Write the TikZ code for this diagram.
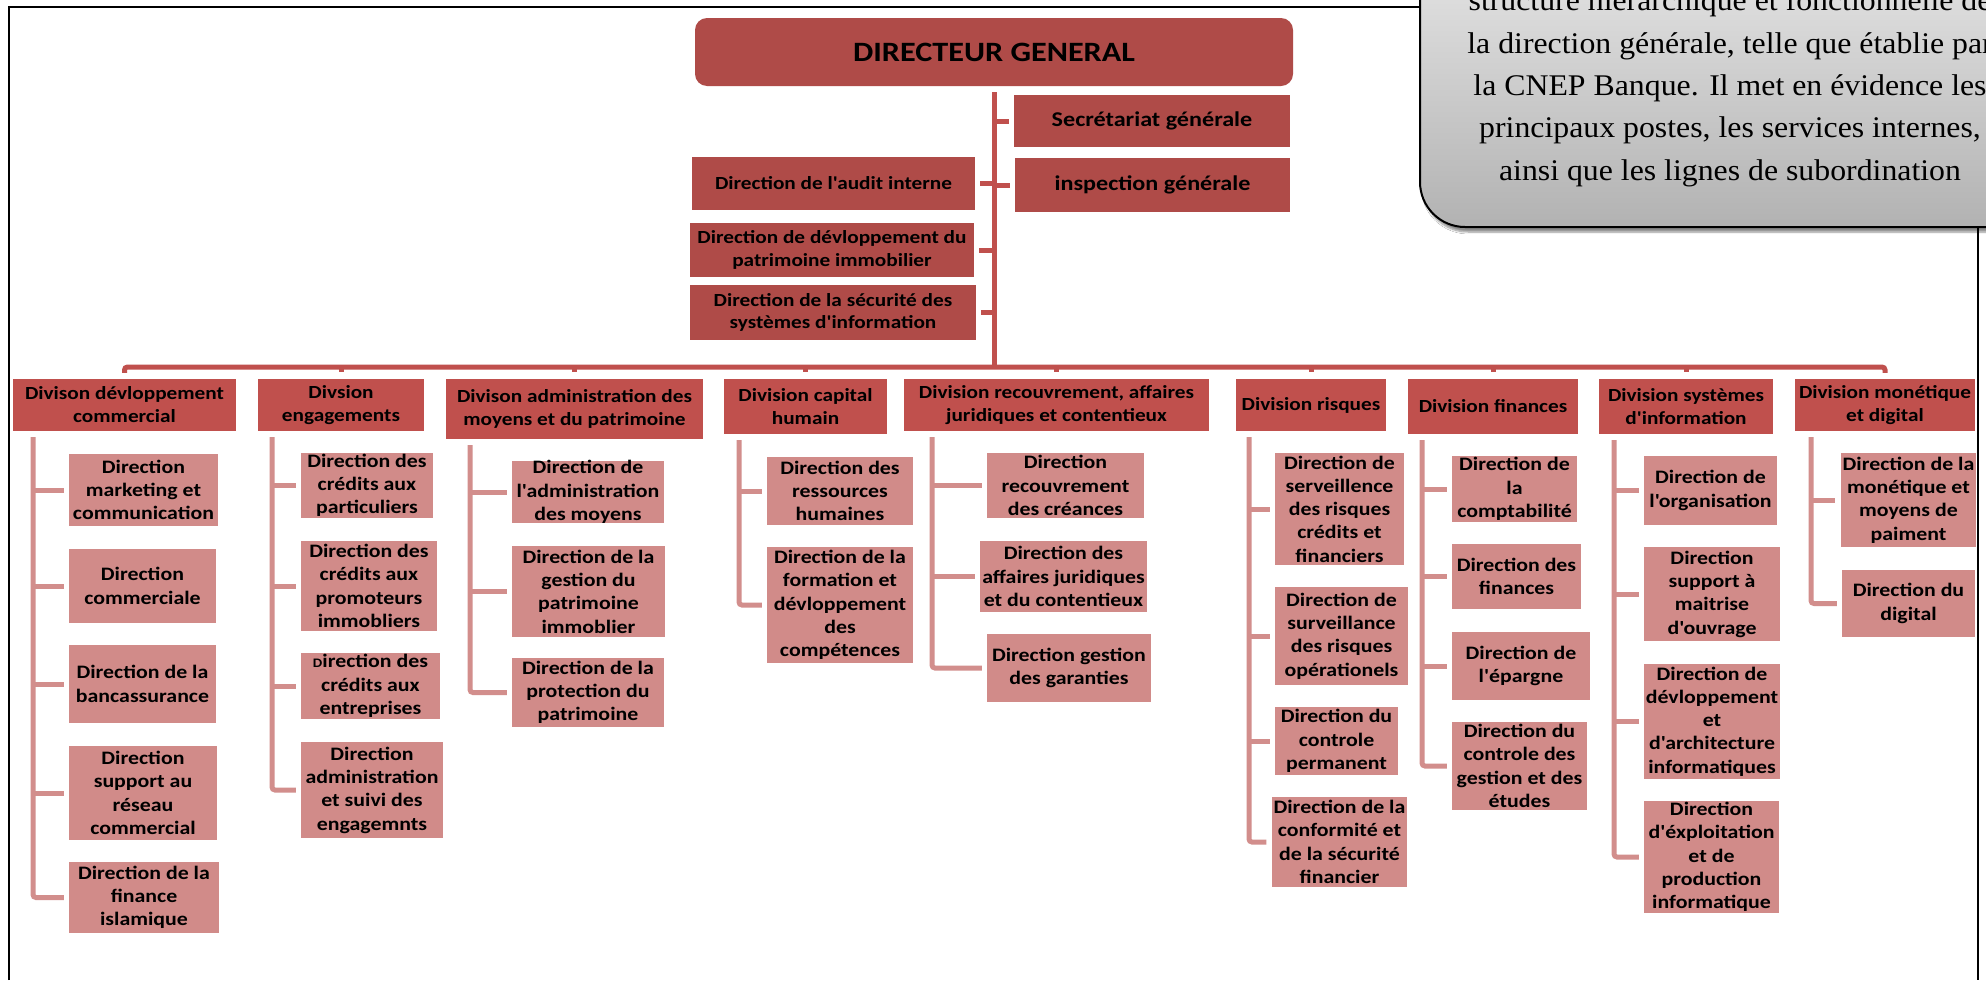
\documentclass[tikz,border=0pt]{standalone}
\usepackage{fontspec}
\setmainfont{Carlito}[FakeStretch=1.15, Ligatures=TeXOff]
\newfontfamily\timesf{Liberation Serif}[FakeStretch=1.06]
\usetikzlibrary{calc,shadows.blur}
\definecolor{dgred}{HTML}{AF4B48}
\definecolor{divred}{HTML}{C0504D}
\definecolor{childpink}{HTML}{D18B89}
\definecolor{linkpink}{HTML}{D28E8C}
\definecolor{barred}{HTML}{C0504D}
\definecolor{calltop}{HTML}{EBEBEB}
\definecolor{callbot}{HTML}{B2B2B2}
\newcommand\boxat[7]{%
  \pgfmathsetmacro\bw{#5-#3}%
  \pgfmathsetmacro\bh{#6-#4}%
  \pgfmathsetmacro\bcx{(#3+#5)/2}%
  \pgfmathsetmacro\bcy{(#4+#6)/2}%
  \node[#1,minimum width=\bw pt,minimum height=\bh pt] (#2) at (\bcx,\bcy) {#7};}
\tikzset{
  box/.style={inner xsep=2pt, inner ysep=0pt, align=center, text=black, font=\bfseries\fontsize{19}{23.3}\selectfont},
  topbox/.style={box, fill=dgred, font=\bfseries\fontsize{18.5}{22.7}\selectfont},
  bigtopbox/.style={box, fill=dgred, font=\bfseries\fontsize{21}{24}\selectfont},
  dgbox/.style={box, fill=dgred, rounded corners=12pt, font=\bfseries\fontsize{28}{32}\selectfont},
  divbox/.style={box, fill=divred, font=\bfseries\fontsize{18.5}{23}\selectfont},
  childbox/.style={box, fill=childpink},
  bar/.style={draw=barred, line width=5pt},
  trunk/.style={draw=barred, line width=5pt},
  link/.style={draw=linkpink, line width=5pt, rounded corners=3pt},
  framestyle/.style={draw=black, line width=2.5pt},
}
\begin{document}
\begin{tikzpicture}[x=1pt,y=-1pt]
\useasboundingbox (0,0) rectangle (1986,980);
\fill[white] (0,0) rectangle (1986,980);
% outer frame
\draw[framestyle] (9,980) -- (9,7) -- (1978,7) -- (1978,980);

% top level
\boxat{dgbox}{dg}{695}{18}{1293}{86}{DIRECTEUR GENERAL}
\boxat{bigtopbox}{sec}{1014}{95}{1290}{147}{Secrétariat générale}
\boxat{bigtopbox}{insp}{1015}{158}{1290}{212}{inspection générale}
\boxat{topbox}{audit}{692}{157}{975}{210}{Direction de l'audit interne}
\boxat{topbox}{patr}{690}{223}{974}{277}{Direction de dévloppement du\\patrimoine immobilier}
\boxat{topbox}{secu}{690}{285}{976}{340}{Direction de la sécurité des\\systèmes d'information}

\coordinate (hub) at (994,367);
\draw[trunk] ($(dg.south)+(0,6)$) -- (hub);
\draw[trunk] (sec.west -| hub) -- ($(sec.west)+(-5,0)$);
\draw[trunk] (insp.west -| hub) -- ($(insp.west)+(-5,0)$);
\draw[trunk] ($(audit.east)+(5,0)$) -- (audit.east -| hub);
\draw[trunk] ($(patr.east)+(5,0)$) -- (patr.east -| hub);
\draw[trunk] ($(secu.east)+(5,0)$) -- (secu.east -| hub);

% divisions
\boxat{divbox}{div1}{13}{379}{236}{431}{Divison dévloppement\\commercial}
\boxat{divbox}{div2}{258}{379}{424}{431}{Divsion\\engagements}
\boxat{divbox}{div3}{446}{379}{703}{439}{Divison administration des\\moyens et du patrimoine}
\boxat{divbox}{div4}{724}{379}{887}{434}{Division capital\\humain}
\boxat{divbox}{div5}{904}{379}{1209}{431}{Division recouvrement, affaires\\juridiques et contentieux}
\boxat{divbox}{div6}{1236}{379}{1386}{431}{Division risques}
\boxat{divbox}{div7}{1408}{379}{1578}{434}{Division finances}
\boxat{divbox}{div8}{1599}{379}{1773}{434}{Division systèmes\\d'information}
\boxat{divbox}{div9}{1795}{379}{1975}{431}{Division monétique\\et digital}

\draw[bar, rounded corners=3pt] ($(div1.north)+(0,-6)$) -- (div1.north |- hub) -- (div9.north |- hub) -- ($(div9.north)+(0,-6)$);
\foreach \d in {div2,div3,div4,div5,div6,div7,div8}
  \draw[bar] (\d.north |- hub) -- ++(0,5);

% group 1
\boxat{childbox}{c1}{69}{454}{218}{526}{Direction\\marketing et\\communication}
\boxat{childbox}{c2}{69}{549}{216}{623}{Direction\\commerciale}
\boxat{childbox}{c3}{69}{645}{216}{723}{Direction de la\\bancassurance}
\boxat{childbox}{c4}{69}{746}{217}{840}{Direction\\support au\\réseau\\commercial}
\boxat{childbox}{c5}{69}{862}{219}{933}{Direction de la\\finance\\islamique}
\coordinate (v1) at (33,437);
\draw[link] (v1) |- ($(c5.west)+(-5,0)$);
\foreach \c in {c1,c2,c3,c4} \draw[link] (\c.west -| v1) -- ($(\c.west)+(-5,0)$);

% group 2
\boxat{childbox}{d1}{301}{453}{433}{518}{Direction des\\crédits aux\\particuliers}
\boxat{childbox}{d2}{301}{541}{437}{631}{Direction des\\crédits aux\\promoteurs\\immobliers}
\boxat{childbox}{d3}{301}{653}{440}{719}{{\fontsize{13}{13}\selectfont D}irection des\\crédits aux\\entreprises}
\boxat{childbox}{d4}{301}{742}{443}{838}{Direction\\administration\\et suivi des\\engagemnts}
\coordinate (v2) at (272,437);
\draw[link] (v2) |- ($(d4.west)+(-5,0)$);
\foreach \c in {d1,d2,d3} \draw[link] (\c.west -| v2) -- ($(\c.west)+(-5,0)$);

% group 3
\boxat{childbox}{e1}{512}{461}{664}{523}{Direction de\\l'administration\\des moyens}
\boxat{childbox}{e2}{512}{546}{665}{637}{Direction de la\\gestion du\\patrimoine\\immoblier}
\boxat{childbox}{e3}{512}{658}{664}{727}{Direction de la\\protection du\\patrimoine}
\coordinate (v3) at (470,445);
\draw[link] (v3) |- ($(e3.west)+(-5,0)$);
\foreach \c in {e1,e2} \draw[link] (\c.west -| v3) -- ($(\c.west)+(-5,0)$);

% group 4
\boxat{childbox}{f1}{767}{457}{913}{525}{Direction des\\ressources\\humaines}
\boxat{childbox}{f2}{767}{547}{913}{663}{Direction de la\\formation et\\dévloppement\\des\\compétences}
\coordinate (v4) at (739,440);
\draw[link] (v4) |- ($(f2.west)+(-5,0)$);
\draw[link] (f1.west -| v4) -- ($(f1.west)+(-5,0)$);

% group 5
\boxat{childbox}{g1}{987}{453}{1144}{518}{Direction\\recouvrement\\des créances}
\boxat{childbox}{g2}{985}{541}{1142}{612}{Direction des\\affaires juridiques\\et du contentieux}
\boxat{childbox}{g3}{987}{634}{1151}{702}{Direction gestion\\des garanties}
\coordinate (v5) at (932,437);
\draw[link] (v5) |- ($(g3.west)+(-5,0)$);
\foreach \c in {g1,g2} \draw[link] (\c.west -| v5) -- ($(\c.west)+(-5,0)$);

% group 6
\boxat{childbox}{h1}{1275}{453}{1404}{565}{Direction de\\serveillence\\des risques\\crédits et\\financiers}
\boxat{childbox}{h2}{1275}{587}{1408}{685}{Direction de\\surveillance\\des risques\\opérationels}
\boxat{childbox}{h3}{1275}{707}{1398}{775}{Direction du\\controle\\permanent}
\boxat{childbox}{h4}{1275}{797}{1404}{887}{Direction de la\\conformité et\\de la sécurité\\financier}
\coordinate (v6) at (1249,437);
\draw[link] (v6) |- ($(h4.west)+(-5,0)$);
\foreach \c in {h1,h2,h3} \draw[link] (\c.west -| v6) -- ($(\c.west)+(-5,0)$);

% group 7
\boxat{childbox}{i1}{1452}{456}{1577}{522}{Direction de\\la\\comptabilité}
\boxat{childbox}{i2}{1452}{544}{1581}{609}{Direction des\\finances}
\boxat{childbox}{i3}{1452}{632}{1590}{700}{Direction de\\l'épargne}
\boxat{childbox}{i4}{1452}{722}{1587}{810}{Direction du\\controle des\\gestion et des\\études}
\coordinate (v7) at (1422,440);
\draw[link] (v7) |- ($(i4.west)+(-5,0)$);
\foreach \c in {i1,i2,i3} \draw[link] (\c.west -| v7) -- ($(\c.west)+(-5,0)$);

% group 8
\boxat{childbox}{j1}{1644}{456}{1777}{525}{Direction de\\l'organisation}
\boxat{childbox}{j2}{1644}{547}{1780}{641}{Direction\\support à\\maitrise\\d'ouvrage}
\boxat{childbox}{j3}{1644}{664}{1780}{779}{Direction de\\dévloppement\\et\\d'architecture\\informatiques}
\boxat{childbox}{j4}{1644}{801}{1779}{913}{Direction\\d'éxploitation\\et de\\production\\informatique}
\coordinate (v8) at (1614,440);
\draw[link] (v8) |- ($(j4.west)+(-5,0)$);
\foreach \c in {j1,j2,j3} \draw[link] (\c.west -| v8) -- ($(\c.west)+(-5,0)$);

% group 9
\boxat{childbox}{k1}{1842}{453}{1975}{547}{Direction de la\\monétique et\\moyens de\\paiment}
\boxat{childbox}{k2}{1842}{570}{1975}{637}{Direction du\\digital}
\coordinate (v9) at (1811,437);
\draw[link] (v9) |- ($(k2.west)+(-5,0)$);
\draw[link] (k1.west -| v9) -- ($(k1.west)+(-5,0)$);

% callout
\begin{scope}
\clip (0,0) rectangle (1986,980);
\draw[line width=2pt, rounded corners=45pt, top color=calltop, bottom color=callbot,
  blur shadow={shadow xshift=3pt, shadow yshift=-5pt, shadow blur steps=6, shadow opacity=45}]
  (1420,-80) rectangle (2040,227);
\node[font=\timesf\fontsize{30}{42.3}\selectfont, align=center, anchor=base, inner sep=0pt] (note) at (1730,180)
  {structure hiérarchique et fonctionnelle de\\la direction générale, telle que établie par\\la CNEP Banque. Il met en évidence les\\principaux postes, les services internes,\\ainsi que les lignes de subordination};
\end{scope}
\end{tikzpicture}
\end{document}
